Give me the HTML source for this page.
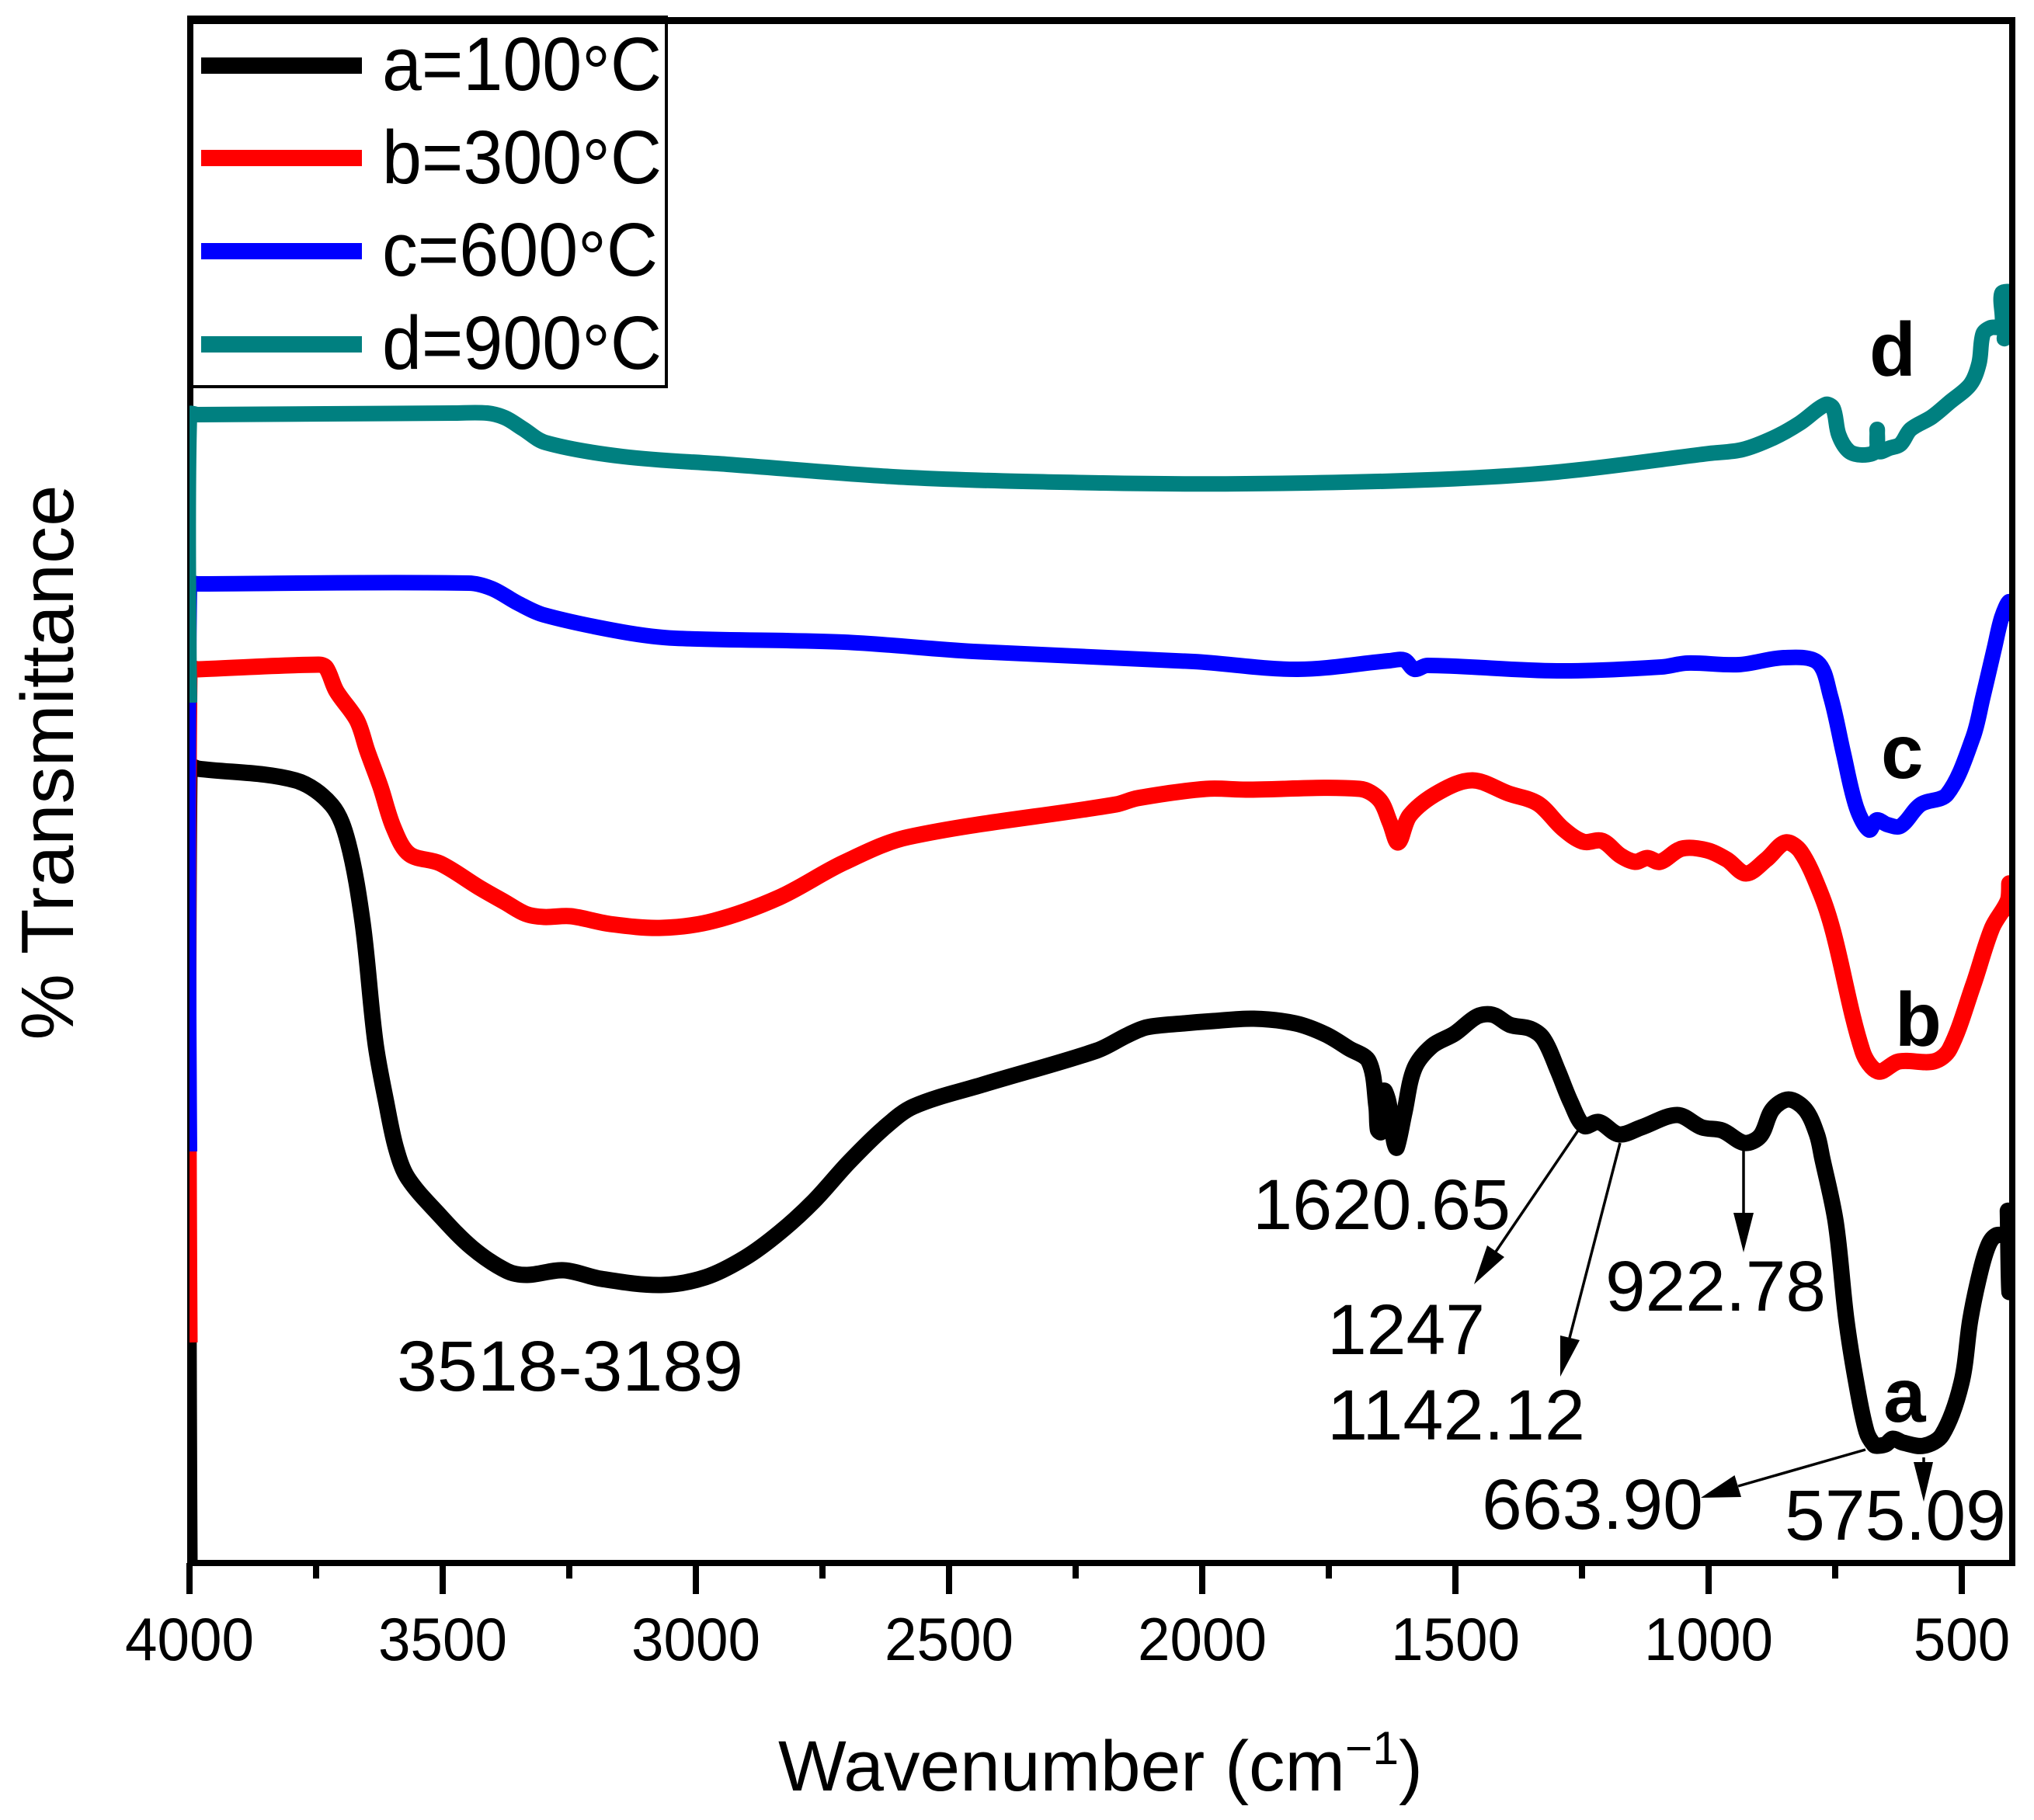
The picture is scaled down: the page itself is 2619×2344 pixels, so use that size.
<!DOCTYPE html>
<html>
<head>
<meta charset="utf-8">
<title>FTIR spectra</title>
<style>
html,body{margin:0;padding:0;background:#fff;}
svg{display:block;}
text{font-family:"Liberation Sans",Arial,sans-serif;fill:#000;}
</style>
</head>
<body>
<svg id="chart" xmlns="http://www.w3.org/2000/svg" width="2619" height="2344" viewBox="0 0 2619 2344">
<defs><clipPath id="plot-clip"><rect x="244" y="20" width="2344" height="1995"/></clipPath></defs>
<rect x="0" y="0" width="2619" height="2344" fill="#fff"/>
<line x1="245" y1="22" x2="245" y2="2017" stroke="#000" stroke-width="8"/>
<g id="series-layer" clip-path="url(#plot-clip)"></g>
<line x1="241" y1="26.5" x2="2595" y2="26.5" stroke="#000" stroke-width="9"/>
<line x1="2591" y1="22" x2="2591" y2="2017" stroke="#000" stroke-width="8"/>
<line x1="241" y1="2013" x2="2595" y2="2013" stroke="#000" stroke-width="8"/>
<g id="tick-layer"></g>

<g>
<rect x="245" y="22" width="613" height="476" fill="#fff" stroke="#000" stroke-width="4"/>
<rect x="245" y="20" width="615" height="11" fill="#000"/>
<rect x="241" y="20" width="8" height="480" fill="#000"/>
<rect x="259" y="74" width="207" height="21" fill="#000000"/>
<text x="492" y="116" font-size="97" textLength="360" lengthAdjust="spacingAndGlyphs">a=100<tspan dy="11">°</tspan><tspan dy="-11">C</tspan></text>
<rect x="259" y="193" width="207" height="21" fill="#ff0000"/>
<text x="492" y="236" font-size="97" textLength="360" lengthAdjust="spacingAndGlyphs">b=300<tspan dy="11">°</tspan><tspan dy="-11">C</tspan></text>
<rect x="259" y="313" width="207" height="21" fill="#0000ff"/>
<text x="492" y="355" font-size="97" textLength="355" lengthAdjust="spacingAndGlyphs">c=600<tspan dy="11">°</tspan><tspan dy="-11">C</tspan></text>
<rect x="259" y="433" width="207" height="21" fill="#008080"/>
<text x="492" y="475" font-size="97" textLength="360" lengthAdjust="spacingAndGlyphs">d=900<tspan dy="11">°</tspan><tspan dy="-11">C</tspan></text>
</g>

<text x="1002" y="2306" font-size="92" textLength="830" lengthAdjust="spacingAndGlyphs">Wavenumber (cm<tspan font-size="60" dy="-34">−1</tspan><tspan dy="34">)</tspan></text>
<text transform="translate(94,982) rotate(-90)" text-anchor="middle" font-size="96">% Transmittance</text>

<g font-weight="bold">
<text x="2425" y="1831" font-size="98" font-weight="bold">a</text>
<text x="2440" y="1347" font-size="98" font-weight="bold">b</text>
<text x="2422" y="1002" font-size="98" font-weight="bold">c</text>
<text x="2407" y="484" font-size="98" font-weight="bold">d</text>
</g>

<g font-size="92">
<text x="511" y="1791" textLength="446" lengthAdjust="spacingAndGlyphs">3518-3189</text>
<text x="1613" y="1583" textLength="332" lengthAdjust="spacingAndGlyphs">1620.65</text>
<text x="1709" y="1744" textLength="203" lengthAdjust="spacingAndGlyphs">1247</text>
<text x="1709" y="1854" textLength="332" lengthAdjust="spacingAndGlyphs">1142.12</text>
<text x="2067" y="1688" textLength="284" lengthAdjust="spacingAndGlyphs">922.78</text>
<text x="1908" y="1969" textLength="285" lengthAdjust="spacingAndGlyphs">663.90</text>
<text x="2298" y="1983" textLength="285" lengthAdjust="spacingAndGlyphs">575.09</text>

<g>
<line x1="2032" y1="1456" x2="1926" y2="1612" stroke="#000" stroke-width="3.5"/>
<polygon points="1898,1654 1915,1604 1937,1619" fill="#000"/>
</g>
<g>
<line x1="2086" y1="1472" x2="2021" y2="1723" stroke="#000" stroke-width="3.5"/>
<polygon points="2009,1773 2009,1720 2034,1726" fill="#000"/>
</g>
<g>
<line x1="2245" y1="1481" x2="2245" y2="1562" stroke="#000" stroke-width="3.5"/>
<polygon points="2245,1613 2232,1562 2258,1562" fill="#000"/>
</g>
<g>
<line x1="2402" y1="1867" x2="2238" y2="1914" stroke="#000" stroke-width="3.5"/>
<polygon points="2190,1929 2233.5,1900 2242,1928" fill="#000"/>
</g>
<g>
<line x1="2477" y1="1877" x2="2477" y2="1884" stroke="#000" stroke-width="3.5"/>
<polygon points="2477,1934 2464,1883 2489,1883" fill="#000"/>
</g>
</g>
</svg>

<script>
// Wavenumber (cm-1) and transmittance (a.u., stacked offset)
const aWn = [4000,4000,3983,3791,3719,3687,3658,3633,3612,3592,3569,3509,3442,3373,3333,3261,3187,3069,2981,2903,2834,2767,2698,2629,2570,2434,2208,2147,2109,2036,1978,1898,1816,1757,1711,1671,1656,1653,1647,1641,1632,1621,1616,1601,1581,1546,1501,1457,1426,1392,1352,1326,1297,1272,1246,1217,1177,1133,1062,1013,973,929,898,874,842,809,786,776,749,728,708,688,673,665,650,636,616,575,539,501,483,463,447,432,409,409,406,401];
const aT = [0,512.5,511.5,504,488,464,412,335.5,297.5,267,248,225,203,188,185.5,188.5,183,179,184,196.5,213,233,258,280,294,308,330,340,345,347.5,349,350.5,347.5,340.5,331.5,323,294,279,277.5,304,296.5,271.5,267.5,289.5,318.5,333,341,352,353,346.5,344,337.5,316.5,296.5,281.5,284,276,280.5,288.5,280.5,278.5,270.5,275,292,298.5,292,276,261.5,219.5,157,115.5,84.5,76,75.5,76.5,80,77.5,75.5,82.5,115.5,157,188,205,211,211.5,226.5,174.5,216.5];

const bWn = [4000,4000,3983,3745,3730,3710,3669,3649,3623,3597,3566,3505,3428,3377,3336,3300,3247,3170,3067,2965,2836,2708,2580,2170,2128,1992,1914,1689,1650,1629,1613,1590,1532,1466,1395,1337,1288,1248,1210,1174,1145,1121,1096,1053,1004,964,926,886,848,818,779,754,696,665,624,555,524,478,440,409,406,401];
const bT = [142,575.5,575.5,578.5,576.5,561.5,542.5,523,500,473.5,456.5,450.5,435,425.5,418,416,416.5,411.5,409,413.5,428.5,451,467.5,488.5,492.5,498.5,498,498.5,491.5,476.5,464,481.5,496.5,504,495.5,489,473,464.5,465,455.5,451.5,454,451.5,460,459,453,444,453,464,458,431.5,406.5,329.5,316.5,323,323,331,371.5,409,426.5,437.5,416.5];

const cWn = [4000,4000,3983,3449,3403,3351,3300,3144,3041,2708,2452,2017,1811,1631,1601,1581,1555,1299,1093,1042,940,851,785,759,734,708,683,668,647,621,581,529,478,458,436,421,406,401];
const cT = [265,630,630.5,631,627.5,618,610.5,599.5,595.5,593,587,580.5,575.5,581,581.5,575.5,578,574.5,577,579.5,578.5,583,580,558,522,486.5,472,478.5,475.5,474.5,488.5,495,531.5,558,588.5,609,619,606.5];

const dWn = [4000,4000,3983,3480,3412,3377,3342,3297,3144,2938,2580,2196,1914,1555,1299,999,933,872,820,769,754,743,723,697,670,667,664,642,621,601,559,524,483,466,458,443,421,421,401,416,401];
const dT = [554,739.5,739.5,740.5,740.5,737.5,730.5,721.5,712.5,707.5,699,695.5,695,697.5,702.5,714.5,717,724.5,734,746,743.5,726.5,716,713.5,716,730,716,718,720.5,730,738,747.5,759,772.5,791.5,795.5,796.5,817.5,817.5,788.5,806.5];

const majorTicks = [4000,3500,3000,2500,2000,1500,1000,500];
const minorTicks = [3750,3250,2750,2250,1750,1250,750];

function xAxis(w){ return 244 + (4000 - w) * 0.652; }
function yAxis(t){ return 2013 - t * 2; }

const NS = 'http://www.w3.org/2000/svg';
const seriesLayer = document.getElementById('series-layer');
const tickLayer = document.getElementById('tick-layer');

function smoothPath(wn, tr){
  const P = [];
  for (let i = 0; i < wn.length; i++) P.push([xAxis(wn[i]), yAxis(tr[i])]);
  const dist = function(a, b){ return Math.max(0.01, Math.hypot(a[0]-b[0], a[1]-b[1])); };
  const tan = function(i){
    if (i === 0 || i === P.length - 1) return [0, 0];
    const d = dist(P[i], P[i-1]) + dist(P[i], P[i+1]);
    return [(P[i+1][0]-P[i-1][0])/d, (P[i+1][1]-P[i-1][1])/d];
  };
  let s = 'M' + P[0][0].toFixed(1) + ' ' + P[0][1].toFixed(1);
  for (let i = 0; i < P.length - 1; i++) {
    const d = dist(P[i], P[i+1]) / 3;
    const t0 = tan(i), t1 = tan(i+1);
    s += ' C' + (P[i][0]+t0[0]*d).toFixed(1) + ' ' + (P[i][1]+t0[1]*d).toFixed(1) + ' ' +
         (P[i+1][0]-t1[0]*d).toFixed(1) + ' ' + (P[i+1][1]-t1[1]*d).toFixed(1) + ' ' +
         P[i+1][0].toFixed(1) + ' ' + P[i+1][1].toFixed(1);
  }
  return s;
}

function drawSeries(wn, tr, color, width, name){
  const p = document.createElementNS(NS, 'path');
  p.setAttribute('d', smoothPath(wn, tr));
  p.setAttribute('fill', 'none');
  p.setAttribute('stroke', color);
  p.setAttribute('stroke-width', width);
  p.setAttribute('stroke-linejoin', 'round');
  p.setAttribute('stroke-linecap', 'butt');
  
  
  seriesLayer.appendChild(p);
}
drawSeries(aWn, aT, '#000000', 21, 'series-a-100c');
drawSeries(bWn, bT, '#ff0000', 21, 'series-b-300c');
drawSeries(cWn, cT, '#0000ff', 20, 'series-c-600c');
drawSeries(dWn, dT, '#008080', 20, 'series-d-900c');

majorTicks.forEach(function(v){
  const x = xAxis(v);
  const l = document.createElementNS(NS, 'line');
  l.setAttribute('x1', x); l.setAttribute('x2', x);
  l.setAttribute('y1', 2013); l.setAttribute('y2', 2053);
  l.setAttribute('stroke', '#000'); l.setAttribute('stroke-width', 8);
  
  
  tickLayer.appendChild(l);
  const t = document.createElementNS(NS, 'text');
  t.setAttribute('x', x);
  t.setAttribute('y', 2138);
  t.setAttribute('text-anchor', 'middle');
  t.setAttribute('font-size', 78);
  t.setAttribute('textLength', String(v).length * 41.5);
  t.setAttribute('lengthAdjust', 'spacingAndGlyphs');
  t.textContent = String(v);
  
  
  tickLayer.appendChild(t);
});
minorTicks.forEach(function(v){
  const x = xAxis(v);
  const l = document.createElementNS(NS, 'line');
  l.setAttribute('x1', x); l.setAttribute('x2', x);
  l.setAttribute('y1', 2013); l.setAttribute('y2', 2033);
  l.setAttribute('stroke', '#000'); l.setAttribute('stroke-width', 8);
  
  
  tickLayer.appendChild(l);
});
</script>
</body>
</html>
